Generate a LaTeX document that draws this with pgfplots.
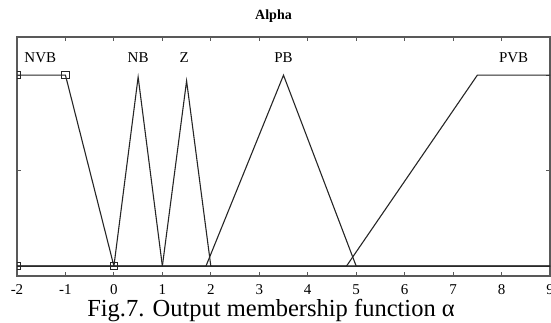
\documentclass[border=0pt]{standalone}
\usepackage{fontspec}
\setmainfont{Liberation Serif}
\usepackage{pgfplots}
\pgfplotsset{compat=1.18}
\begin{document}
\begin{tikzpicture}
\path[use as bounding box] (0,0) rectangle (551pt,322pt);
\begin{axis}[at={(17pt,46pt)}, anchor=south west, scale only axis,
  width=533pt, height=239pt,
  xmin=-2, xmax=9, ymin=-0.052, ymax=1.2,
  xtick={-2,-1,0,1,2,3,4,5,6,7,8,9},
  xticklabels={-2,-1,0,1,2,3,4,5,6,7,8,9},
  ytick={0,0.5,1}, yticklabels={},
  tick align=inside, major tick length=4pt,
  axis line style={draw=black!65, line width=1.2pt},
  every tick/.style={black!65, line width=1pt},
  xticklabel style={font=\fontsize{15}{15}\selectfont, anchor=center, yshift=-13.5pt},
  clip marker paths=true,
]
\addplot[black!85, line width=1.1pt] coordinates {(-2,1) (-1,1) (0,0) (9,0)};
\addplot[only marks, mark=square, mark size=3.6pt, black!85, line width=0.8pt]
  coordinates {(-2,0) (-2,1) (-1,1) (0,0)};
\addplot[black!85, line width=1.1pt] coordinates {(-2,0) (0,0) (0.5,0.99) (1,0) (9,0)};
\addplot[black!85, line width=1.1pt] coordinates {(-2,0) (1,0) (1.5,0.97) (2,0) (9,0)};
\addplot[black!85, line width=1.1pt] coordinates {(-2,0) (1.9,0) (3.5,1) (5,0) (9,0)};
\addplot[black!85, line width=1.1pt] coordinates {(-2,0) (4.8,0) (7.5,1) (9,1)};
\tikzset{mflab/.style={font=\fontsize{15}{15}\selectfont, anchor=base, inner sep=0pt}}
\node[mflab] at (axis cs:-1.52,1.064) {NVB};
\node[mflab] at (axis cs:0.5,1.064) {NB};
\node[mflab] at (axis cs:1.45,1.064) {Z};
\node[mflab] at (axis cs:3.5,1.064) {PB};
\node[mflab] at (axis cs:8.25,1.064) {PVB};
\end{axis}
\node[font=\bfseries\fontsize{14}{14}\selectfont, anchor=base, inner sep=0pt] at (273.5pt,302pt) {Alpha};
\node[font=\fontsize{24.5}{24.5}\selectfont, anchor=base, inner sep=0pt] at (271pt,6pt) {Fig.7. Output membership function α};
\end{tikzpicture}
\end{document}
